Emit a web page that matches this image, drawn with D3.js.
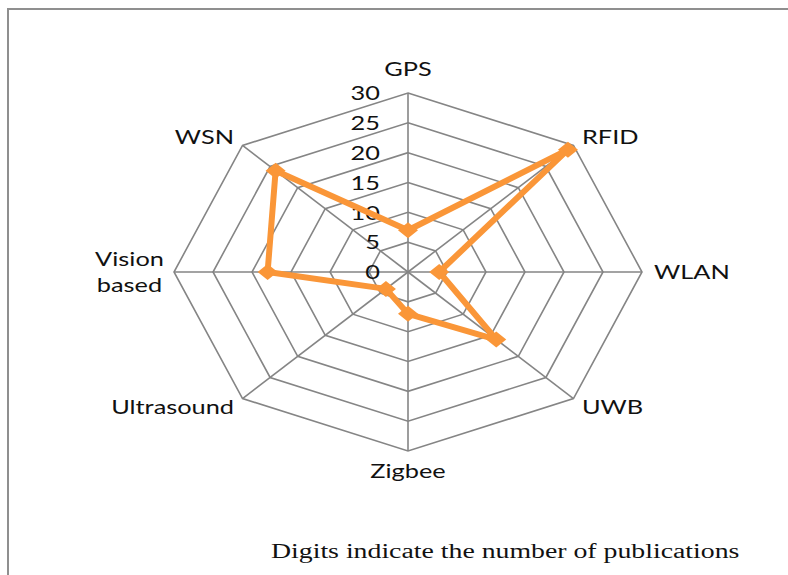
<!DOCTYPE html>
<html>
<head>
<meta charset="utf-8">
<script src="https://cdn.jsdelivr.net/npm/d3@7"></script>
<style>
  html, body { margin: 0; padding: 0; background: #fff; }
  svg { display: block; }
  text { font-family: Lato, "Noto Sans", sans-serif; fill: #111; }
</style>
</head>
<body>
<div id="chart"></div>
<script>
// radar of publications per positioning technology
const axes = ["GPS", "RFID", "WLAN", "UWB", "Zigbee", "Ultrasound", "Vision based", "WSN"];
const publications = [7, 29, 4, 16, 7, 4, 18, 24];
const ticks = [0, 5, 10, 15, 20, 25, 30];
const caption = "Digits indicate the number of publications";

(function () {
  const width = 788, height = 575;
  const cx = 408, cy = 272;
  const rx = 234, ry = 179;   // the original is stretched sideways
  const stretch = 1.3;
  const orange = "#fa9638", grid = "#858585";

  const svg = d3.select("#chart")
    .append("svg")
    .attr("width", width)
    .attr("height", height);

  // frame
  svg.append("rect")
    .attr("x", 8).attr("y", 9)
    .attr("width", width + 20).attr("height", height + 20)
    .attr("fill", "none")
    .attr("stroke", "#8f8f8f")
    .attr("stroke-width", 2);

  const r = d3.scaleLinear().domain([0, 30]).range([0, 1]);
  const angle = d3.scalePoint().domain(axes).range([0, 2 * Math.PI * (axes.length - 1) / axes.length]);

  const pt = (name, v) => {
    const a = angle(name), k = r(v);
    return [cx + rx * k * Math.sin(a), cy - ry * k * Math.cos(a)];
  };

  // rings
  svg.selectAll(".ring")
    .data(ticks.slice(1))
    .enter()
    .append("path")
    .attr("class", "ring")
    .attr("d", t => d3.line()(axes.map(n => pt(n, t))) + "Z")
    .attr("fill", "none")
    .attr("stroke", grid)
    .attr("stroke-width", 1.6);

  // spokes
  svg.selectAll(".spoke")
    .data(axes)
    .enter()
    .append("line")
    .attr("class", "spoke")
    .attr("x1", cx).attr("y1", cy)
    .attr("x2", n => pt(n, 30)[0])
    .attr("y2", n => pt(n, 30)[1])
    .attr("stroke", grid)
    .attr("stroke-width", 1.6);

  // tick labels
  svg.selectAll(".tick")
    .data(ticks)
    .enter()
    .append("text")
    .attr("class", "tick")
    .attr("transform", t => `translate(${cx - 28},${cy - ry * r(t)}) scale(${stretch},1)`)
    .attr("text-anchor", "end")
    .attr("dominant-baseline", "central")
    .style("font-size", "19.5px")
    .text(t => t);

  // axis labels
  const pad = 12;
  const lab = svg.selectAll(".label")
    .data(axes)
    .enter()
    .append("text")
    .attr("class", "label")
    .attr("transform", n => {
      const a = angle(n);
      const x = cx + (rx + pad) * Math.sin(a), y = cy - (ry + pad) * Math.cos(a);
      return `translate(${x},${y}) scale(${stretch},1)`;
    })
    .attr("text-anchor", n => {
      const s = Math.sin(angle(n));
      return s > 0.1 ? "start" : s < -0.1 ? "end" : "middle";
    })
    .style("font-size", "19.5px");

  lab.each(function (n) {
    const c = Math.cos(angle(n));
    const words = n === "Vision based" ? ["Vision", "based"] : [n];
    const base = c > 0.9 ? -5 : c < -0.9 ? 15 : 7 - (words.length - 1) * 13;
    d3.select(this).selectAll("tspan")
      .data(words)
      .enter()
      .append("tspan")
      .attr("x", 0)
      .attr("y", (w, i) => base + i * 26)
      .attr("text-anchor", words.length > 1 ? "middle" : null)
      .attr("dx", words.length > 1 ? -25 : 0)
      .text(w => w);
  });

  // series
  const pts = axes.map((n, i) => pt(n, publications[i]));
  svg.append("path")
    .attr("d", d3.line()(pts) + "Z")
    .attr("fill", "none")
    .attr("stroke", orange)
    .attr("stroke-width", 6)
    .attr("stroke-linejoin", "round");

  svg.selectAll(".marker")
    .data(pts)
    .enter()
    .append("path")
    .attr("class", "marker")
    .attr("transform", d => `translate(${d[0]},${d[1]})`)
    .attr("d", "M0,-8L10,0L0,8L-10,0Z")
    .attr("fill", orange);

  // caption
  svg.append("text")
    .attr("transform", "translate(271,558) scale(1.39,1)")
    .style("font-family", "'Liberation Serif', 'DejaVu Serif', serif")
    .style("font-size", "20px")
    .text(caption);
})();
</script>
</body>
</html>
